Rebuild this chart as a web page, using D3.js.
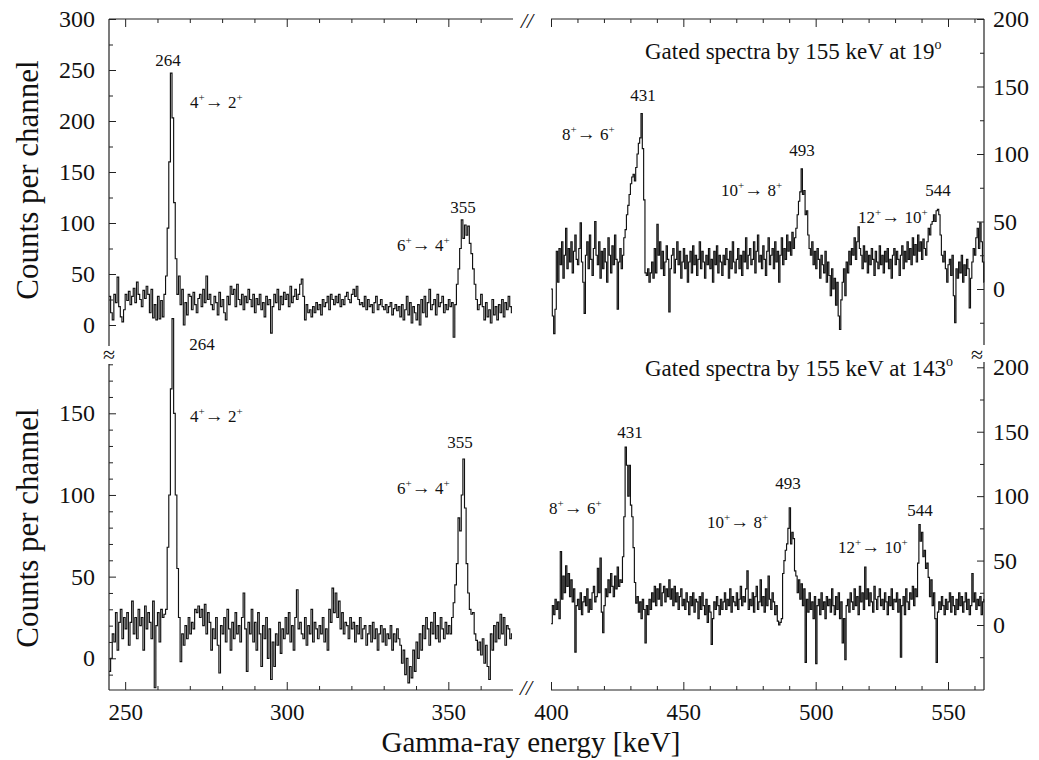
<!DOCTYPE html>
<html>
<head>
<meta charset="utf-8">
<script src="https://cdn.jsdelivr.net/npm/d3@7"></script>
<style>
  body { margin: 0; background: #fff; }
  text { font-family: "Liberation Serif", "Times New Roman", serif; fill: #111; }
</style>
</head>
<body>
<div id="chart"></div>
<script>
// channel width of the spectra (keV) and first channel of each energy window
const binWidth = 0.5;
const lowStart = 245;
const highStart = 400;

// gated at 19 deg, 245-370 keV
const countsTopLow = [
  28, 12, 5, 30, 22, 47, 18, 8, 3, 15,
  30, 24, 33, 20, 28, 36, 22, 42, 30, 25,
  18, 34, 26, 38, 30, 12, 35, 7, 20, 5,
  28, 6, 24, 8, 30, 48, 95, 160, 247, 203,
  120, 65, 30, 48, 20, 35, 0, 22, 10, 30,
  28, 15, 32, 20, 12, 26, 30, 18, 35, 22,
  48, 25, 30, 20, 15, 28, 22, 10, 32, 18,
  25, 12, 5, 28, 20, 38, 30, 35, 18, 40,
  25, 20, 30, 15, 28, 22, 35, 25, 18, 30,
  12, 26, 20, 30, 15, 22, 8, 28, 20, 25,
  -8, 18, 30, 22, 35, 15, 28, 20, 32, 25,
  30, 18, 38, 22, 28, 35, 25, 30, 40, 45,
  28, 5, 20, 12, 15, 8, 18, 12, 22, 15,
  20, 10, 25, 18, 22, 28, 15, 30, 25, 20,
  28, 22, 30, 18, 25, 20, 28, 32, 25, 22,
  30, 35, 28, 38, 25, 20, 22, 18, 28, 15,
  25, 18, 20, 12, 22, 28, 15, 20, 25, 18,
  15, 20, 12, 18, 22, 10, 16, 20, 14, 18,
  8, 20, 5, 15, 28, 10, 22, 2, 18, 12,
  5, 20, 0, 25, 12, 28, 8, 22, 35, 15,
  20, 25, 10, 30, 18, 22, 28, 12, 20, 15,
  25, 18, 22, -12, 20, 40, 55, 75, 103, 85,
  98, 88, 97, 80, 70, 55, 40, 25, 15, 20,
  30, 18, 5, 22, 8, 15, 2, 25, 10, 18,
  5, 20, 12, 25, 8, 22, 15, 28, 18, 12
];

// gated at 19 deg, 400-564 keV
const countsTopHigh = [
  0, -20, -33, -15, 28, 5, 30, 18, 35, 8,
  25, 45, 15, 30, 20, 35, 12, 28, 40, 22,
  18, 30, 49, 20, 5, -18, 25, 35, 15, 40,
  22, 10, 30, 50, 25, 18, 35, 8, 28, 15,
  30, 20, 5, 38, 25, 12, 32, 18, 40, 22,
  -15, 20, 30, 15, 25, 38, 44, 55, 62, 70,
  78, 83, 85, 80, 90, 100, 108, 112, 130, 104,
  66, 12, 10, 15, 5, 12, 20, 8, 30, 12,
  48, 25, 35, 15, 28, 10, 20, 32, 22, -17,
  15, 25, 30, 12, 22, 35, 18, 28, 8, 20,
  30, 15, 25, 5, 20, 28, 12, 32, 18, 25,
  10, 22, 35, 15, 28, 20, 8, 25, 18, 30,
  15, 22, 5, 28, 18, 32, 12, 25, 20, 10,
  25, 18, 30, 22, 8, 28, 15, 35, 20, 12,
  22, 30, 15, 25, 10, 28, 20, 38, 15, 25,
  30, 18, 22, 35, 12, 28, 40, 20, 25, 15,
  32, 22, 10, 28, 38, 18, 25, 30, 15, 35,
  20, 28, 5, 25, 38, 18, 30, 22, 40, 28,
  35, 25, 42, 30, 38, 45, 55, 65, 72, 89,
  70, 73, 55, 58, 40, 30, 25, 35, 18, 28,
  15, 30, 22, 8, 25, 18, 12, 28, 5, 20,
  10, -5, 15, 0, 8, -12, 5, -20, -30, -8,
  5, 15, -5, 20, 12, 28, 18, 30, 25, 38,
  22, 35, 46, 30, 25, 15, 32, 20, 28, 12,
  25, 18, 30, 22, 10, 28, 20, 15, 32, 18,
  25, 12, 28, 20, 30, 15, 22, 8, 25, 30,
  18, 28, 22, 10, 25, 32, 15, 28, 20, 35,
  22, 30, 18, 38, 25, 33, 20, 40, 28, 35,
  22, 37, 30, 25, 35, 45, 40, 48, 50, 55,
  50, 58, 59, 55, 40, 25, 20, 28, 15, 5,
  18, 22, 10, 25, -5, -25, 15, 8, 20, 12,
  25, 5, 18, 10, 22, 15, -14, 8, 20, 30,
  25, 38, 45, 30, 49, 35, 20, 5
];

// gated at 143 deg, 245-370 keV
const countsBottomLow = [
  -8, 0, 15, 10, 28, 5, 22, 30, 12, 25,
  18, 28, 8, 22, 35, 15, 25, 12, 30, 20,
  25, 5, 32, 18, 28, 22, 12, 35, -18, 20,
  28, 10, 30, 25, 27, 30, 68, 100, 165, 208,
  150, 100, 55, 25, -2, 15, 8, 20, 12, 25,
  15, 22, 18, 30, 28, 32, 25, 30, 20, 33,
  15, 28, 22, 5, 18, 12, 25, 8, -9, 20,
  15, 25, 10, 30, 18, 5, 22, 12, 28, 15,
  20, 10, 25, 40, 18, -8, 22, 15, 30, 10,
  22, 5, 28, 15, -5, 20, 12, 25, 0, 18,
  -13, 10, -5, 15, 8, 22, 3, 18, 12, 25,
  15, 28, 10, 20, 5, 25, 42, 18, 22, 15,
  12, 25, 8, 20, 15, 30, 10, 22, 18, 12,
  20, 15, 25, 10, 18, 5, 30, 22, 43, 28,
  40, 25, 35, 18, 28, 15, 22, 20, 12, 25,
  18, 22, 10, 20, 15, 25, 12, 18, 20, 8,
  15, 20, 10, 22, 12, 18, 5, 15, 20, 10,
  18, 8, 15, 12, 20, 5, 15, 10, 18, 12,
  8, -3, 5, -10, 0, -15, -5, -12, 5, -8,
  10, 0, 15, 5, 20, 12, 25, 18, 8, 22,
  15, 28, 12, 20, 10, 25, 18, 12, 22, 15,
  20, 15, 25, 34, 45, 58, 86, 78, 100, 122,
  92, 58, 40, 30, 27, 28, 15, 11, 5, 10,
  2, 12, -3, 8, -5, -13, 15, 5, 20, 10,
  22, 12, 27, 15, 25, 8, 20, 18, 12, 15
];

// gated at 143 deg, 400-564 keV
const countsBottomHigh = [
  1, 15, 8, 20, 12, 18, 5, 57, 20, 38,
  25, 46, 30, 40, 22, 35, 18, 28, -21, 15,
  20, 12, 25, 8, 18, 22, 15, 28, 10, 20,
  12, 25, 30, 18, 22, 44, 25, 52, 10, -6,
  15, 28, 22, 35, 25, 40, 30, 22, 38, 28,
  45, 30, 35, 33, 53, 84, 138, 124, 100, 124,
  93, 84, 60, 33, 17, 22, 10, 18, 5, 20,
  12, -14, 15, 8, 20, 12, 25, 18, 30, 15,
  28, 20, 32, 15, 25, 30, 18, 28, 22, 35,
  20, 28, 15, 30, 18, 25, 12, 22, 28, 15,
  20, 12, 25, 18, 8, 22, 15, 25, 10, 20,
  18, 5, 22, 12, 25, 15, 8, 20, 2, 15,
  10, -15, 5, 18, 12, 22, 15, 8, 20, 12,
  18, 25, 12, 20, 15, 28, 10, 22, 18, 15,
  25, 12, 20, 30, 15, 22, 18, 28, 42, 12,
  20, 15, 25, 10, 22, 30, 12, 18, 35, 15,
  22, 10, 28, 15, 38, 20, 12, 25, 18, 8,
  15, 3, 0, 2, 5, 40, 50, 58, 63, 75,
  91, 63, 72, 67, 42, 38, 25, 35, 20, 32,
  15, 28, -29, 20, 10, 25, 12, 18, 5, 22,
  -30, 15, 20, 8, 25, 12, 18, 5, 22, 15,
  20, 10, 28, 15, 8, 22, 12, 25, 5, 18,
  -14, 5, -27, 15, 20, 10, 25, 18, 12, 28,
  15, 22, 8, 30, 18, 25, 12, 45, 20, 28,
  15, 25, 18, 10, 30, 20, 12, 22, 28, 15,
  20, 12, 25, 18, 8, 22, 15, 28, 12, 20,
  18, 25, 10, 20, -25, 15, 22, 8, 28, 18,
  12, 25, 20, 30, 15, 28, 22, 48, 78, 65,
  72, 53, 58, 44, 48, 37, 22, 35, 15, 25,
  5, -29, 10, 18, 12, 22, 15, 8, 20, 12,
  18, 25, 10, 22, 15, 8, 20, 12, 25, 15,
  22, 10, 18, 25, 12, 20, 8, 15, 40, 18,
  25, 12, 20, 15, 22, 8, 18, 20
];

// tick values
const lowEnergyTicks = [250, 300, 350];
const highEnergyTicks = [400, 450, 500, 550];
const topLowCountTicks = [0, 50, 100, 150, 200, 250, 300];
const bottomLowCountTicks = [0, 50, 100, 150];
const highCountTicks = [0, 50, 100, 150, 200];

// annotation texts
const peakEnergies = ["264", "355", "431", "493", "544"];
const spinPairs = [["4", "2"], ["6", "4"], ["8", "6"], ["10", "8"], ["12", "10"]];
const gateAngles = ["19", "143"];

const width = 1039, height = 760;
const svg = d3.select("#chart").append("svg")
  .attr("width", width)
  .attr("height", height);

const serif = '"Liberation Serif", "Times New Roman", serif';

// frame geometry
const frameLeft = 109, lowEnd = 513, highBegin = 551, frameRight = 984;
const frameTop = 19, frameBottom = 690;

const xLow = d3.scaleLinear().domain([245, 369.7]).range([frameLeft, 512]);
const xHigh = d3.scaleLinear().domain([400, 563.6]).range([highBegin, frameRight]);
const yTopLow = d3.scaleLinear().domain([0, 300]).range([325, 19]);
const yTopHigh = d3.scaleLinear().domain([0, 200]).range([289, 19]);
const yBottomLow = d3.scaleLinear().domain([0, 150]).range([658.3, 413.3]);
const yBottomHigh = d3.scaleLinear().domain([0, 200]).range([625, 367.3]);

// histogram as a step line
function drawSpectrum(counts, start, x, y) {
  const maxE = x.domain()[1];
  const pts = counts.map((c, i) => [start + i * binWidth, c]);
  pts.push([Math.min(start + counts.length * binWidth, maxE), counts[counts.length - 1]]);
  const line = d3.line()
    .x(d => x(Math.min(d[0], maxE)))
    .y(d => y(d[1]))
    .curve(d3.curveStepAfter);
  svg.append("path")
    .datum(pts)
    .attr("fill", "none")
    .attr("stroke", "#111")
    .attr("stroke-width", 1.15)
    .attr("d", line);
}

drawSpectrum(countsTopLow, lowStart, xLow, yTopLow);
drawSpectrum(countsTopHigh, highStart, xHigh, yTopHigh);
drawSpectrum(countsBottomLow, lowStart, xLow, yBottomLow);
drawSpectrum(countsBottomHigh, highStart, xHigh, yBottomHigh);

// frame lines with breaks
const frame = [
  [frameLeft, frameTop, frameLeft, 346], [frameLeft, 364, frameLeft, frameBottom],
  [frameRight, frameTop, frameRight, 345], [frameRight, 362, frameRight, frameBottom],
  [frameLeft, frameTop, lowEnd, frameTop], [highBegin, frameTop, frameRight, frameTop],
  [frameLeft, frameBottom, lowEnd, frameBottom], [highBegin, frameBottom, frameRight, frameBottom]
];
svg.append("g").selectAll("line")
  .data(frame)
  .join("line")
  .attr("x1", d => d[0]).attr("y1", d => d[1])
  .attr("x2", d => d[2]).attr("y2", d => d[3])
  .attr("stroke", "#222")
  .attr("stroke-width", 1.2);

function noDomain(g) { g.select(".domain").remove(); }

function styleTicks(g, size) {
  g.attr("font-family", null).attr("font-size", null);
  g.selectAll("text")
    .style("font-family", serif)
    .style("font-size", size + "px")
    .attr("fill", "#111");
  g.selectAll(".tick line").attr("stroke", "#222");
}

// x axes (bottom with labels, top mirrored)
const lowMinor = d3.range(250, 370, 10).filter(v => !lowEnergyTicks.includes(v));
const highMinor = d3.range(400, 564, 10).filter(v => !highEnergyTicks.includes(v));

[[xLow, lowEnergyTicks, lowMinor], [xHigh, highEnergyTicks, highMinor]].forEach(([x, major, minor]) => {
  svg.append("g").attr("transform", `translate(0,${frameBottom})`)
    .call(d3.axisBottom(x).tickValues(major).tickSize(-8).tickPadding(14).tickFormat(d3.format("d")))
    .call(noDomain).call(g => styleTicks(g, 23));
  svg.append("g").attr("transform", `translate(0,${frameBottom})`)
    .call(d3.axisBottom(x).tickValues(minor).tickSize(-4).tickFormat(""))
    .call(noDomain).call(g => styleTicks(g, 23));
  svg.append("g").attr("transform", `translate(0,${frameTop})`)
    .call(d3.axisTop(x).tickValues(major).tickSize(-8).tickFormat(""))
    .call(noDomain).call(g => styleTicks(g, 23));
  svg.append("g").attr("transform", `translate(0,${frameTop})`)
    .call(d3.axisTop(x).tickValues(minor).tickSize(-4).tickFormat(""))
    .call(noDomain).call(g => styleTicks(g, 23));
});

// y axes
function yAxis(scale, major, minor, side) {
  const axis = side === "left" ? d3.axisLeft : d3.axisRight;
  const xpos = side === "left" ? frameLeft : frameRight;
  svg.append("g").attr("transform", `translate(${xpos},0)`)
    .call(axis(scale).tickValues(major).tickSize(-7).tickPadding(side === "left" ? 14 : 9).tickFormat(d3.format("d")))
    .call(noDomain).call(g => styleTicks(g, 24));
  svg.append("g").attr("transform", `translate(${xpos},0)`)
    .call(axis(scale).tickValues(minor).tickSize(-4).tickFormat(""))
    .call(noDomain).call(g => styleTicks(g, 24));
}
yAxis(yTopLow, topLowCountTicks, [25, 75, 125, 175, 225, 275], "left");
yAxis(yBottomLow, bottomLowCountTicks,
  d3.range(-10, 190, 10).filter(v => !bottomLowCountTicks.includes(v)), "left");
yAxis(yTopHigh, highCountTicks, [-25, 25, 75, 125, 175], "right");
yAxis(yBottomHigh, highCountTicks, [-25, 25, 75, 125, 175], "right");

// break marks
svg.append("text").attr("x", frameLeft).attr("y", 362).attr("text-anchor", "middle")
  .attr("font-size", 22).text("\u2248");
svg.append("text").attr("x", 977).attr("y", 362).attr("text-anchor", "middle")
  .attr("font-size", 22).text("\u2248");
svg.append("text").attr("x", 527).attr("y", 28).attr("text-anchor", "middle")
  .attr("font-size", 22).attr("font-style", "italic").text("//");
svg.append("text").attr("x", 526).attr("y", 695).attr("text-anchor", "middle")
  .attr("font-size", 22).attr("font-style", "italic").text("//");

// peak energy labels: [label index, x, baseline]
const peakSpots = [
  [0, 168, 66], [1, 463, 213], [2, 643, 101], [3, 802, 156], [4, 938, 196],
  [0, 202, 350], [1, 460, 448], [2, 630, 438], [3, 788, 489], [4, 920, 516]
];
svg.append("g").selectAll("text")
  .data(peakSpots)
  .join("text")
  .attr("x", d => d[1]).attr("y", d => d[2])
  .attr("text-anchor", "middle")
  .attr("font-size", 17)
  .text(d => peakEnergies[d[0]]);

// spin transition labels: [pair index, x, baseline]
const spinSpots = [
  [0, 190, 108], [1, 397, 251], [2, 562, 140], [3, 721, 196], [4, 858, 223],
  [0, 190, 422], [1, 397, 494], [2, 549, 514], [3, 707, 528], [4, 838, 553]
];
spinSpots.forEach(([i, x, y]) => {
  const t = svg.append("text").attr("x", x).attr("y", y).attr("font-size", 17);
  t.append("tspan").text(spinPairs[i][0]);
  t.append("tspan").attr("dy", -7).attr("font-size", 11).text("+");
  t.append("tspan").attr("dy", 7).attr("font-size", 19).text("\u2192");
  t.append("tspan").text(" " + spinPairs[i][1]);
  t.append("tspan").attr("dy", -7).attr("font-size", 11).text("+");
});

// gate titles
[[0, 59], [1, 376]].forEach(([i, y]) => {
  const t = svg.append("text").attr("x", 645).attr("y", y).attr("font-size", 23);
  t.append("tspan").text(`Gated spectra by 155 keV at ${gateAngles[i]}`);
  t.append("tspan").attr("dy", -10).attr("font-size", 14).text("o");
});

// axis titles
svg.append("text")
  .attr("x", 531).attr("y", 752)
  .attr("text-anchor", "middle")
  .attr("font-size", 29)
  .text("Gamma-ray energy [keV]");

[180, 528].forEach(cy => {
  svg.append("text")
    .attr("transform", `translate(38,${cy}) rotate(-90)`)
    .attr("text-anchor", "middle")
    .attr("font-size", 31)
    .text("Counts per channel");
});
</script>
</body>
</html>
